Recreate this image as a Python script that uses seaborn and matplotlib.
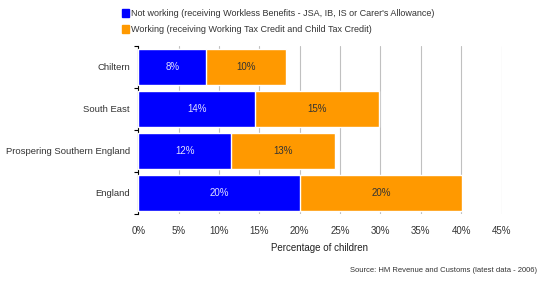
import matplotlib.pyplot as plt
import seaborn as sns
import pandas as pd
from matplotlib.patches import Patch

areas = ['Chiltern', 'South East', 'Prospering Southern England', 'England']
not_working = [8.4, 14.45, 11.5, 20.0]
working = [9.9, 15.35, 12.85, 20.1]
not_working_lbl = ['8%', '14%', '12%', '20%']
working_lbl = ['10%', '15%', '13%', '20%']

df = pd.DataFrame({'area': areas, 'nw': not_working, 'w': working})
df['total'] = df['nw'] + df['w']

sns.set_style('white')
plt.rcParams['font.family'] = ['Liberation Sans', 'DejaVu Sans']

fig = plt.figure(figsize=(5.41, 2.82), dpi=100)
ax = fig.add_axes([138.3 / 541, 1 - 214 / 282, (501.5 - 138.3) / 541, (214 - 46) / 282])

sns.barplot(data=df, y='area', x='total', color='#FF9900', orient='h', width=0.87,
            saturation=1, ax=ax, zorder=2)
sns.barplot(data=df, y='area', x='nw', color='#0000FF', orient='h', width=0.87,
            saturation=1, ax=ax, zorder=3)

for i in range(len(areas)):
    ax.text(not_working[i] / 2, i, not_working_lbl[i], ha='center', va='center',
            color='#E0E0FF', fontsize=7, zorder=4)
    ax.text(not_working[i] + working[i] / 2, i, working_lbl[i], ha='center', va='center',
            color='#333333', fontsize=7, zorder=4)

ax.set_xlim(0, 45)
ax.set_ylim(3.5, -0.5)
ax.set_xticks(range(0, 50, 5))
ax.set_xticklabels([f'{v}%' for v in range(0, 50, 5)], fontsize=7, color='#333333')
ax.xaxis.grid(True, color='#C0C0C0', linewidth=0.8, zorder=0)
ax.set_axisbelow(True)
ax.tick_params(axis='x', length=0, pad=9)
ax.set_yticks(range(len(areas)))
ax.set_yticklabels(areas, fontsize=6.8, color='#333333')
ax.set_yticks([-0.5, 0.5, 1.5, 2.5, 3.5], minor=True)
ax.tick_params(axis='y', which='major', length=0, pad=6)
ax.tick_params(axis='y', which='minor', length=3, width=0.8, color='black', left=True)
ax.set_xlabel('Percentage of children', fontsize=7, color='#222222', labelpad=5)
ax.set_ylabel('')
for s in ['top', 'right', 'bottom']:
    ax.spines[s].set_visible(False)
ax.spines['left'].set_color('black')
ax.spines['left'].set_linewidth(0.8)

handles = [Patch(color='#0000FF', label='Not working (receiving Workless Benefits - JSA, IB, IS or Carer\'s Allowance)'),
           Patch(color='#FF9900', label='Working (receiving Working Tax Credit and Child Tax Credit)')]
fig.legend(handles=handles, loc='upper left', bbox_to_anchor=(116 / 541, 1 - 3 / 282), frameon=False,
           fontsize=6.5, handlelength=0.75, handleheight=0.95, handletextpad=0.25,
           labelspacing=0.75, borderaxespad=0.3, labelcolor='#333333')

fig.text(537 / 541, 1 - 270 / 282, 'Source: HM Revenue and Customs (latest data - 2006)',
         ha='right', va='center', fontsize=5.5, color='#333333')

fig.savefig('out.png', dpi=100)
